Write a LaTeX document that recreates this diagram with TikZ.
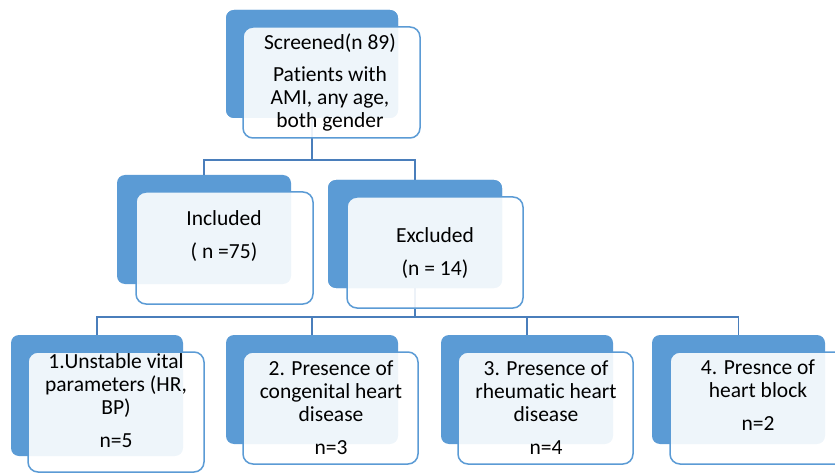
\documentclass[tikz,border=0pt]{standalone}
\usepackage{fontspec}
\setmainfont{Carlito}[Ligatures=NoCommon]
\definecolor{boxblue}{HTML}{5B9BD5}
\definecolor{linkblue}{HTML}{4A7EBB}
\begin{document}
\begin{tikzpicture}[x=1pt,y=-1pt,
  backbox/.style={fill=boxblue,rounded corners=8pt,inner sep=0pt,draw=none},
  frontbox/.style={draw=boxblue,line width=1.5pt,fill=white,fill opacity=0.9,rounded corners=10pt,inner sep=0pt},
  label/.style={font=\fontsize{21.5}{23}\selectfont,align=center,inner sep=0pt,text=black},
  link/.style={draw=linkblue,line width=1.5pt}]
\useasboundingbox (0,0) rectangle (835,473);
% back boxes
\node[backbox,minimum width=172,minimum height=108] (topB) at (312,64) {};
\node[backbox,minimum width=174,minimum height=109] (incB) at (204,229.5) {};
\node[backbox,minimum width=174,minimum height=108] (excB) at (415,234) {};
\node[backbox,minimum width=172,minimum height=121] (b1B) at (97,395.5) {};
\node[backbox,minimum width=172,minimum height=109] (b2B) at (312,389.5) {};
\node[backbox,minimum width=172,minimum height=109] (b3B) at (527,389.5) {};
\node[backbox,minimum width=173,minimum height=109] (b4B) at (738.5,389.5) {};
% connectors
\coordinate (bus1) at (312,160);
\coordinate (bus2) at (415,317);
\path[link] (topB.south) -- (bus1) -| (incB.north);
\path[link] (bus1) -| (excB.north);
\path[link] (excB.south) -- (bus2) -| (b1B.north);
\path[link] (bus2) -| (b2B.north);
\path[link] (bus2) -| (b3B.north);
\path[link] (bus2) -| (b4B.north);
% redraw back boxes over connector starts
\node[backbox,minimum width=172,minimum height=108] (topB2) at (312,64) {};
\node[backbox,minimum width=174,minimum height=108] (excB2) at (415,234) {};
% front boxes
\node[frontbox,minimum width=177,minimum height=111] (topF) at (331.5,82.5) {};
\node[frontbox,minimum width=177,minimum height=112] (incF) at (224.5,248) {};
\node[frontbox,minimum width=176,minimum height=111] (excF) at (435,252.5) {};
\node[frontbox,minimum width=176,minimum height=120] (b1F) at (116,412) {};
\node[frontbox,minimum width=175,minimum height=112] (b2F) at (330.5,408) {};
\node[frontbox,minimum width=175,minimum height=112] (b3F) at (545.5,408) {};
\node[frontbox,minimum width=176,minimum height=112] (b4F) at (758,408) {};
% texts
\node[label] (topT) at (330,82) {Screened(n 89)\\[9pt]Patients with\\AMI, any age,\\both gender};
\node[label] (incT) at (224,236) {Included\\[10pt]( n =75)};
\node[label] (excT) at (435,253) {Excluded\\[10pt](n = 14)};
\node[label] (b1T) at (116,401) {1.Unstable vital\\parameters (HR,\\BP)\\[10pt]n=5};
\node[label] (b2T) at (331,408) {2. Presence of\\congenital heart\\disease\\[10pt]n=3};
\node[label] (b3T) at (546,408) {3. Presence of\\rheumatic heart\\disease\\[10pt]n=4};
\node[label] (b4T) at (758,395) {4. Presnce of\\heart block\\[10pt]n=2};
\end{tikzpicture}
\end{document}
